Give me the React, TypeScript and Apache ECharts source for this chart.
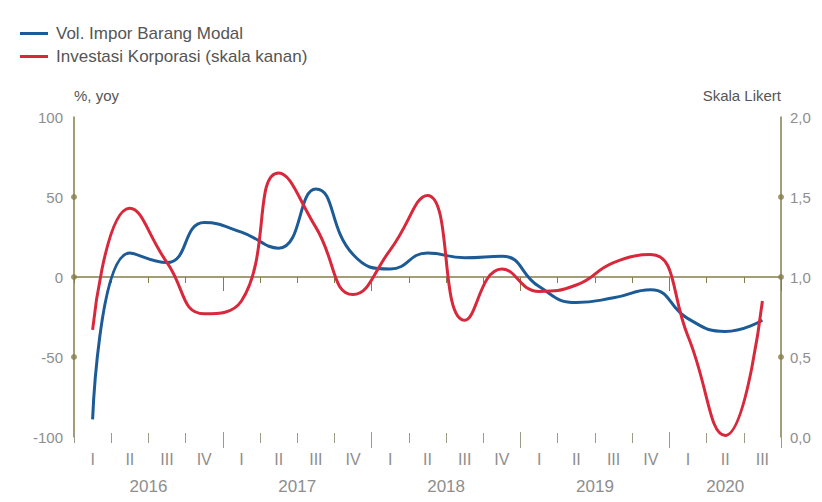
import React, { useEffect, useRef } from "react";
import * as echarts from "echarts";

// ---- data ----
const quarterYears = [
  "2016", "2016", "2016", "2016",
  "2017", "2017", "2017", "2017",
  "2018", "2018", "2018", "2018",
  "2019", "2019", "2019", "2019",
  "2020", "2020", "2020",
];
const quarters = [
  "I", "II", "III", "IV",
  "I", "II", "III", "IV",
  "I", "II", "III", "IV",
  "I", "II", "III", "IV",
  "I", "II", "III",
];
const years = ["2016", "2017", "2018", "2019", "2020"];

// Vol. Impor Barang Modal (%, yoy) - left axis
const imporBarangModal = [-89, 15, 9, 34, 28, 18, 55, 14, 5, 15, 12, 13, -6, -16, -13, -8, -26, -34, -27];
// Investasi Korporasi (Skala Likert) - right axis
const investasiKorporasi = [0.67, 1.43, 1.09, 0.77, 0.85, 1.65, 1.31, 0.89, 1.17, 1.51, 0.73, 1.05, 0.91, 0.95, 1.09, 1.14, 0.63, 0.01, 0.85];

const leftTicks = [-100, -50, 0, 50, 100];
const rightTicks = [0, 0.5, 1.0, 1.5, 2.0];
const leftDots = [-50, 0, 50];
const rightDots = [0.5, 1.0, 1.5];

const seriesNames = ["Vol. Impor Barang Modal", "Investasi Korporasi (skala kanan)"];

const FONT = "'Liberation Sans', Arial, sans-serif";
const OLIVE = "#847e4a";
const BLUE = "#1d5b97";
const RED = "#d8283c";
const LABEL_GRAY = "#8e8e8e";

export default function App() {
  const ref = useRef<HTMLDivElement>(null);

  useEffect(() => {
    if (!ref.current) return;
    const chart = echarts.init(ref.current, undefined, { renderer: "svg" });
    const categories = quarterYears.map((y, i) => y + " " + quarters[i]);
    const n = categories.length;

    // year label positions (centre of each year's quarters, in band units)
    const yearCentre: Record<string, string> = {};
    years.forEach((yr) => {
      const first = quarterYears.indexOf(yr);
      const last = quarterYears.lastIndexOf(yr);
      yearCentre[String((first + last + 1) / 2)] = yr;
    });
    const isYearStart = (index: number) => index > 0 && quarterYears[index] !== quarterYears[index - 1];

    const baseCat = {
      type: "category" as const,
      data: categories,
      boundaryGap: true,
      gridIndex: 0,
      position: "bottom" as const,
      splitLine: { show: false },
    };

    chart.setOption({
      animation: false,
      textStyle: { fontFamily: FONT },
      legend: {
        data: seriesNames,
        orient: "vertical",
        left: 15,
        top: 20,
        itemWidth: 28,
        itemHeight: 3,
        itemGap: 6,
        icon: "rect",
        textStyle: { fontSize: 17, color: "#555", fontFamily: FONT, padding: [0, 0, 0, 3] },
      },
      grid: { left: 74, right: 41, top: 117, bottom: 65, containLabel: false },
      xAxis: [
        // zero line with short ticks
        {
          ...baseCat,
          axisLine: { show: true, onZero: true, onZeroAxisIndex: 0, lineStyle: { color: OLIVE, width: 1.5 } },
          axisTick: { show: true, interval: 0, length: 6, lineStyle: { color: OLIVE, width: 1 } },
          axisLabel: { show: false },
        },
        // zero line year-boundary ticks
        {
          ...baseCat,
          axisLine: { show: false, onZero: true, onZeroAxisIndex: 0 },
          axisTick: { show: true, interval: (i: number) => isYearStart(i), length: 14, lineStyle: { color: OLIVE, width: 1 } },
          axisLabel: { show: false },
        },
        // bottom quarter ticks + roman labels
        {
          ...baseCat,
          offset: 6,
          axisLine: { show: false, onZero: false },
          axisTick: { show: true, inside: true, interval: 0, length: 10, lineStyle: { color: "#9a9a86", width: 1 } },
          axisLabel: {
            show: true,
            interval: 0,
            margin: 8,
            fontSize: 16,
            color: LABEL_GRAY,
            fontFamily: FONT,
            formatter: (_v: string, i: number) => quarters[i],
          },
        },
        // bottom year-boundary ticks
        {
          ...baseCat,
          offset: 11,
          axisLine: { show: false, onZero: false },
          axisTick: { show: true, inside: true, interval: (i: number) => isYearStart(i), length: 16, lineStyle: { color: "#9a9a86", width: 1 } },
          axisLabel: { show: false },
        },
        // year labels
        {
          type: "value",
          gridIndex: 0,
          position: "bottom",
          min: 0,
          max: n,
          interval: 0.5,
          axisLine: { show: false, onZero: false },
          axisTick: { show: false },
          splitLine: { show: false },
          axisLabel: {
            show: true,
            margin: 41,
            fontSize: 17,
            color: LABEL_GRAY,
            fontFamily: FONT,
            showMinLabel: true,
            showMaxLabel: true,
            formatter: (v: number) => yearCentre[String(v)] || "",
          },
        },
      ],
      yAxis: [
        {
          type: "value",
          position: "left",
          min: leftTicks[0],
          max: leftTicks[leftTicks.length - 1],
          interval: leftTicks[1] - leftTicks[0],
          name: "%, yoy",
          nameLocation: "end",
          nameGap: 14,
          nameTextStyle: { fontSize: 15, color: "#555", align: "left", fontFamily: FONT },
          axisLine: { show: true, onZero: false, lineStyle: { color: OLIVE, width: 1.5 } },
          axisTick: { show: false },
          splitLine: { show: false },
          axisLabel: { fontSize: 15, color: LABEL_GRAY, margin: 11, fontFamily: FONT },
        },
        {
          type: "value",
          position: "right",
          min: rightTicks[0],
          max: rightTicks[rightTicks.length - 1],
          interval: rightTicks[1] - rightTicks[0],
          name: "Skala Likert",
          nameLocation: "end",
          nameGap: 14,
          nameTextStyle: { fontSize: 15, color: "#555", align: "right", fontFamily: FONT },
          axisLine: { show: true, onZero: false, lineStyle: { color: OLIVE, width: 1.5 } },
          axisTick: { show: false },
          splitLine: { show: false },
          axisLabel: {
            fontSize: 15,
            color: LABEL_GRAY,
            margin: 9,
            fontFamily: FONT,
            formatter: (v: number) => v.toFixed(1).replace(".", ","),
          },
        },
      ],
      series: [
        {
          name: seriesNames[0],
          type: "line",
          xAxisIndex: 0,
          yAxisIndex: 0,
          data: imporBarangModal,
          smooth: 0.5,
          showSymbol: false,
          symbol: "none",
          lineStyle: { color: BLUE, width: 3 },
          itemStyle: { color: BLUE },
          z: 3,
        },
        {
          name: seriesNames[1],
          type: "line",
          xAxisIndex: 0,
          yAxisIndex: 1,
          data: investasiKorporasi,
          smooth: 0.5,
          showSymbol: false,
          symbol: "none",
          lineStyle: { color: RED, width: 3 },
          itemStyle: { color: RED },
          z: 4,
        },
        {
          name: "leftDots",
          type: "scatter",
          xAxisIndex: 4,
          yAxisIndex: 0,
          data: leftDots.map((v) => [0, v]),
          symbolSize: 6,
          itemStyle: { color: OLIVE },
          clip: false,
          silent: true,
          z: 5,
        },
        {
          name: "rightDots",
          type: "scatter",
          xAxisIndex: 4,
          yAxisIndex: 1,
          data: rightDots.map((v) => [n, v]),
          symbolSize: 6,
          itemStyle: { color: OLIVE },
          clip: false,
          silent: true,
          z: 5,
        },
      ],
    });

    return () => chart.dispose();
  }, []);

  return (
    <div
      ref={ref}
      style={{ position: "fixed", left: 0, top: 0, width: 822, height: 502, background: "#fff" }}
    />
  );
}
